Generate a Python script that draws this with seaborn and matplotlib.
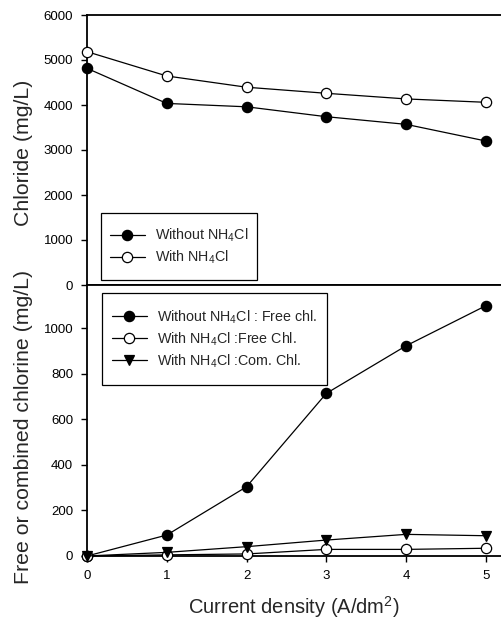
import numpy as np
import pandas as pd
import matplotlib
matplotlib.use("Agg")
import matplotlib.pyplot as plt
import seaborn as sns
from matplotlib.patches import Rectangle

sns.set_theme(style="ticks")
plt.rcParams['font.family'] = ['Liberation Sans', 'DejaVu Sans']
plt.rcParams['mathtext.fontset'] = 'custom'
plt.rcParams['mathtext.rm'] = 'Liberation Sans'
plt.rcParams['mathtext.it'] = 'Liberation Sans:italic'
plt.rcParams['mathtext.bf'] = 'Liberation Sans:bold'

# ---- data ----
current_density = [0, 1, 2, 3, 4, 5]
chloride_without = [4815, 4035, 3960, 3740, 3570, 3200]
chloride_with = [5185, 4645, 4395, 4260, 4135, 4060]
free_without = [0, 92, 304, 714, 923, 1099]
free_with = [0, 5, 9, 29, 29, 34]
combined_with = [0, 16, 41, 70, 95, 89]

top_labels = ["Without NH$_4$Cl", "With NH$_4$Cl"]
bottom_labels = ["Without NH$_4$Cl : Free chl.", "With NH$_4$Cl :Free Chl.",
                 "With NH$_4$Cl :Com. Chl."]
x_ticks = [0, 1, 2, 3, 4, 5]
top_yticks = [0, 1000, 2000, 3000, 4000, 5000, 6000]
bottom_yticks = [0, 200, 400, 600, 800, 1000]

W, H = 501, 628
fig = plt.figure(figsize=(W / 100, H / 100), dpi=100)

def fx(px):
    return px / W

def fy(py):
    return 1 - py / H

left = fx(87)
ax1 = fig.add_axes([left, fy(285), 1 - left, fy(15) - fy(285)])
ax2 = fig.add_axes([left, fy(556), 1 - left, fy(285) - fy(556)])

lw = 0.9
ms = 7.4

def draw(ax, y, marker, face, label):
    sns.lineplot(x=current_density, y=y, ax=ax, color='black', linewidth=lw,
                 marker=marker, markersize=ms, markerfacecolor=face,
                 markeredgecolor='black', markeredgewidth=0.9,
                 label=label, clip_on=False, zorder=3)

draw(ax1, chloride_without, 'o', 'black', top_labels[0])
draw(ax1, chloride_with, 'o', 'white', top_labels[1])

draw(ax2, free_without, 'o', 'black', bottom_labels[0])
draw(ax2, free_with, 'o', 'white', bottom_labels[1])
draw(ax2, combined_with, 'v', 'black', bottom_labels[2])

for ax in (ax1, ax2):
    ax.set_xlim(0, 5.19)
    ax.set_xticks(x_ticks)
    ax.spines['right'].set_visible(False)
    for s in ('left', 'bottom', 'top'):
        ax.spines[s].set_linewidth(1.3)
        ax.spines[s].set_color('black')
    ax.tick_params(axis='both', direction='out', length=4, width=1.0,
                   labelsize=9.5, colors='black', pad=6)
    ax.set_facecolor('white')

ax1.set_ylim(0, 6000)
ax1.set_yticks(top_yticks)
ax1.tick_params(axis='x', labelbottom=False, length=0)
ax1.set_xlabel('')
ax1.set_ylabel('Chloride (mg/L)', fontsize=15.3)
ax1.yaxis.set_label_coords(-0.13, 0.49)

ax2.set_ylim(0, 1190)
ax2.set_yticks(bottom_yticks)
ax2.set_xticklabels([str(v) for v in x_ticks])
ax2.set_ylabel('Free or combined chlorine (mg/L)', fontsize=15.3)
ax2.yaxis.set_label_coords(-0.13, 0.475)
ax2.set_xlabel('Current density (A/dm$^2$)', fontsize=14.5)
ax2.xaxis.set_label_coords(0.5, -0.142)

# legends
leg_kw = dict(frameon=False, fontsize=10.3, handlelength=2.45, handletextpad=0.7,
              labelspacing=0.32, borderpad=0, loc='center')
l1 = ax1.legend(bbox_to_anchor=(fx((101 + 257) / 2), fy((213 + 280) / 2)),
                bbox_transform=fig.transFigure, **leg_kw)
l2 = ax2.legend(bbox_to_anchor=(fx((102 + 327) / 2), fy((293 + 385) / 2)),
                bbox_transform=fig.transFigure, **leg_kw)

fig.add_artist(Rectangle((fx(101), fy(280)), fx(257) - fx(101), fy(213) - fy(280),
                         transform=fig.transFigure, fill=False, ec='black', lw=0.9))
fig.add_artist(Rectangle((fx(102), fy(385)), fx(327) - fx(102), fy(293) - fy(385),
                         transform=fig.transFigure, fill=False, ec='black', lw=0.9))

fig.savefig('out.png', dpi=100, facecolor='white')
